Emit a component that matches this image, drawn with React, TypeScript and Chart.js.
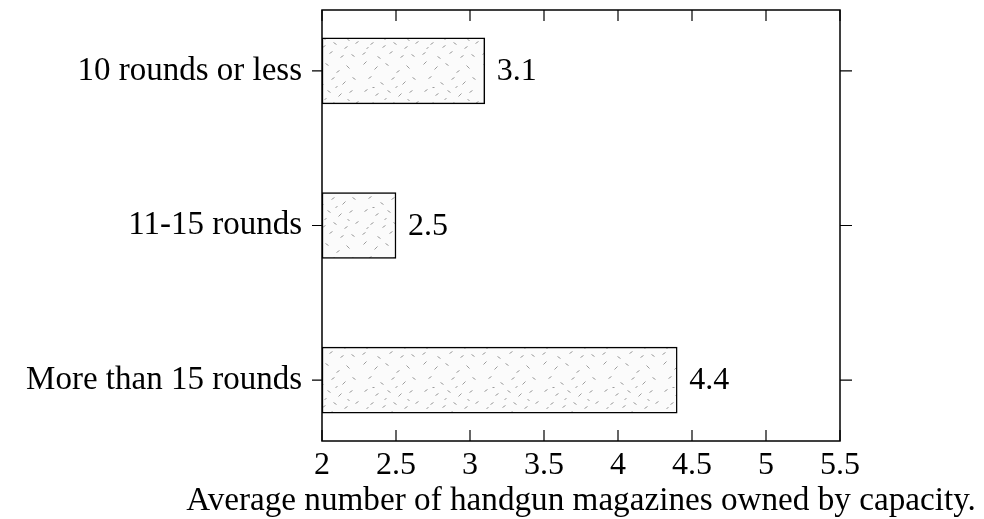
import React, { useEffect, useRef } from "react";
import { Chart, registerables } from "chart.js";

Chart.register(...registerables);

const categories = ["10 rounds or less", "11-15 rounds", "More than 15 rounds"];
const values = [3.1, 2.5, 4.4];
const barBase = 2;
const xTicks = [2, 2.5, 3, 3.5, 4, 4.5, 5, 5.5];
const xTitle = "Average number of handgun magazines owned by capacity.";

const FONT = "'Liberation Serif', 'Times New Roman', serif";

// speckle tile (styling only)
const speckles: [number, number, number, number][] = [
  [3, 4, 6, 1], [14, 9, 17, 6], [25, 3, 28, 5], [36, 12, 39, 10], [46, 5, 49, 8],
  [8, 18, 11, 16], [20, 22, 23, 24], [31, 19, 34, 17], [42, 24, 45, 21], [52, 17, 55, 19],
  [4, 31, 7, 29], [15, 35, 18, 33], [27, 30, 30, 32], [38, 36, 41, 33], [49, 32, 52, 30],
  [10, 44, 13, 42], [22, 47, 25, 45], [33, 42, 36, 44], [44, 48, 47, 46], [55, 43, 58, 41],
  [2, 54, 5, 52], [17, 56, 20, 58], [29, 53, 32, 51], [40, 57, 43, 55], [51, 54, 54, 56],
  [12, 27, 14, 27], [35, 27, 37, 26], [24, 39, 26, 38], [47, 39, 49, 40], [6, 48, 8, 47],
];

function makePattern(ctx: CanvasRenderingContext2D) {
  const c = document.createElement("canvas");
  c.width = 60;
  c.height = 60;
  const g = c.getContext("2d")!;
  g.fillStyle = "#fbfbfb";
  g.fillRect(0, 0, 60, 60);
  g.strokeStyle = "rgba(140,140,140,0.85)";
  g.lineWidth = 1;
  speckles.forEach(([x1, y1, x2, y2]) => {
    g.beginPath();
    g.moveTo(x1 + 0.5, y1 + 0.5);
    g.lineTo(x2 + 0.5, y2 + 0.5);
    g.stroke();
  });
  return ctx.createPattern(c, "repeat")!;
}

const framePlugin = {
  id: "frame",
  afterDraw(chart: any) {
    const { ctx, chartArea: a, scales } = chart;
    const xs = scales.x;
    const ys = scales.y;
    ctx.save();
    ctx.strokeStyle = "#000";
    ctx.lineWidth = 1.5;
    ctx.strokeRect(a.left, a.top, a.right - a.left, a.bottom - a.top);
    ctx.lineWidth = 1.2;
    ctx.beginPath();
    xTicks.forEach((v) => {
      const px = xs.getPixelForValue(v);
      ctx.moveTo(px, a.top);
      ctx.lineTo(px, a.top + 11);
      ctx.moveTo(px, a.bottom);
      ctx.lineTo(px, a.bottom - 11);
    });
    categories.forEach((_, i) => {
      const py = ys.getPixelForValue(i);
      ctx.moveTo(a.left, py);
      ctx.lineTo(a.left - 10, py);
      ctx.moveTo(a.right, py);
      ctx.lineTo(a.right + 12, py);
    });
    ctx.stroke();
    // value labels
    ctx.fillStyle = "#000";
    ctx.font = `32px ${FONT}`;
    ctx.textAlign = "left";
    ctx.textBaseline = "middle";
    values.forEach((v, i) => {
      ctx.fillText(String(v), xs.getPixelForValue(v) + 12, ys.getPixelForValue(i) + 1);
    });
    // axis title, centred under the plot
    ctx.font = `33.2px ${FONT}`;
    ctx.textAlign = "center";
    ctx.textBaseline = "alphabetic";
    const cx = (a.left + a.right) / 2;
    ctx.fillText(xTitle, cx, 510);
    ctx.restore();
  },
};

export default function App() {
  const ref = useRef<HTMLCanvasElement>(null);
  useEffect(() => {
    const canvas = ref.current!;
    const ctx = canvas.getContext("2d")!;
    const pattern = makePattern(ctx);
    const chart = new Chart(ctx, {
      type: "bar",
      data: {
        datasets: [
          {
            data: values.map((v, i) => ({ x: [barBase, v], y: i })) as any,
            backgroundColor: pattern as any,
            borderColor: "#000",
            borderWidth: 1.5,
            borderSkipped: false,
            barThickness: 66,
          },
        ],
      },
      options: {
        indexAxis: "y",
        animation: false,
        responsive: false,
        maintainAspectRatio: false,
        layout: { padding: { top: 10, right: 144, left: 0, bottom: 0 } },
        plugins: { legend: { display: false }, tooltip: { enabled: false } },
        scales: {
          x: {
            type: "linear",
            min: 2,
            max: 5.5,
            afterBuildTicks: (s: any) => {
              s.ticks = xTicks.map((v) => ({ value: v }));
            },
            afterFit: (s: any) => {
              s.height = 78;
              s.paddingLeft = 0;
              s.paddingRight = 0;
            },
            grid: { display: false },
            border: { display: false },
            ticks: {
              padding: -3,
              color: "#000",
              font: { family: FONT, size: 32 },
              callback: (v: any) => String(v),
            },
          },
          y: {
            type: "linear",
            reverse: true,
            offset: false,
            min: -0.394,
            max: 2.394,
            afterBuildTicks: (s: any) => {
              s.ticks = categories.map((_, i) => ({ value: i }));
            },
            afterFit: (s: any) => {
              s.width = 322;
              s.paddingTop = 0;
              s.paddingBottom = 0;
            },
            grid: { display: false, offset: false },
            border: { display: false },
            ticks: {
              padding: 12,
              color: "#000",
              font: { family: FONT, size: 33 },
              callback: (v: any) => categories[v] ?? "",
            },
          },
        },
      },
      plugins: [framePlugin],
    });
    return () => chart.destroy();
  }, []);
  return (
    <div style={{ position: "absolute", left: 0, top: 0, width: 984, height: 519, background: "#fff" }}>
      <canvas ref={ref} width={984} height={519} style={{ width: 984, height: 519 }} />
    </div>
  );
}
